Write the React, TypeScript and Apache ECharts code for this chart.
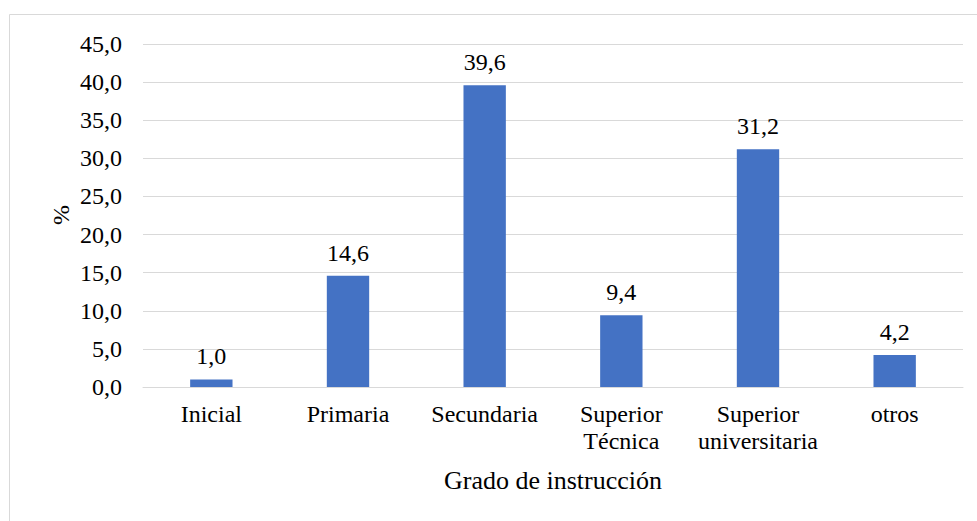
import React, { useEffect, useRef } from "react";
import * as echarts from "echarts";

const categories = ["Inicial", "Primaria", "Secundaria", "Superior\nTécnica", "Superior\nuniversitaria", "otros"];
const values = [1.0, 14.6, 39.6, 9.4, 31.2, 4.2];
const yTicks = { min: 0, max: 45, interval: 5 };
const xName = "Grado de instrucción";
const yName = "%";

const FONT = "Times New Roman, Liberation Serif, DejaVu Serif, serif";
const fmt = (v: number) => v.toFixed(1).replace(".", ",");

export default function App() {
  const ref = useRef<HTMLDivElement>(null);
  useEffect(() => {
    document.body.style.margin = "0";
    const chart = echarts.init(ref.current!, null, { renderer: "svg" });
    chart.setOption({
      animation: false,
      backgroundColor: "#ffffff",
      textStyle: { fontFamily: FONT },
      graphic: [
        {
          type: "polyline",
          shape: { points: [[9.5, 530], [9.5, 14.5], [990, 14.5]] },
          style: { stroke: "#d9d9d9", fill: "none", lineWidth: 1 },
          silent: true,
        },
        {
          type: "text",
          x: 553,
          y: 480,
          style: { text: xName, fontFamily: FONT, fontSize: 26, fill: "#000", align: "center", verticalAlign: "middle" },
        },
        {
          type: "text",
          x: 61,
          y: 215,
          rotation: Math.PI / 2,
          style: { text: yName, fontFamily: FONT, fontSize: 24, fill: "#000", align: "center", verticalAlign: "middle" },
        },
      ],
      grid: { left: 143, right: 14, top: 44, bottom: 134, containLabel: false },
      xAxis: {
        type: "category",
        data: categories,
        axisLine: { show: true, lineStyle: { color: "#d9d9d9", width: 1 } },
        axisTick: { show: false },
        axisLabel: { color: "#000", fontSize: 24, fontFamily: FONT, margin: 13, lineHeight: 27, interval: 0 },
      },
      yAxis: {
        type: "value",
        min: yTicks.min,
        max: yTicks.max,
        interval: yTicks.interval,
        axisLine: { show: false },
        axisTick: { show: false },
        splitLine: { lineStyle: { color: "#d9d9d9", width: 1 } },
        axisLabel: { color: "#000", fontSize: 24, fontFamily: FONT, margin: 21, formatter: (v: number) => fmt(v) },
      },
      series: [
        {
          type: "bar",
          data: values,
          barWidth: "31%",
          itemStyle: { color: "#4472c4" },
          label: {
            show: true,
            position: "top",
            distance: 11,
            color: "#000",
            fontSize: 24,
            fontFamily: FONT,
            formatter: (p: any) => fmt(p.value),
          },
        },
      ],
    });
    return () => chart.dispose();
  }, []);
  return <div ref={ref} style={{ width: 977, height: 521 }} />;
}
